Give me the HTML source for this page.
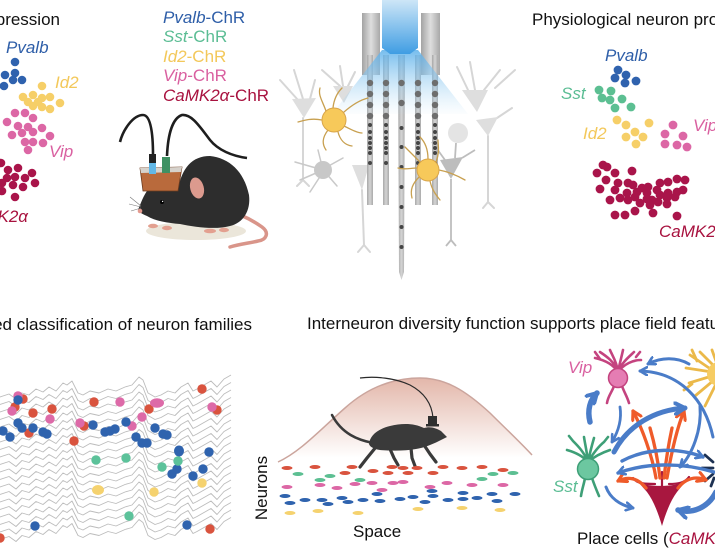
<!DOCTYPE html>
<html><head><meta charset="utf-8">
<style>
html,body{margin:0;padding:0;background:#fff;}
svg{display:block;}
text{font-family:"Liberation Sans","DejaVu Sans",sans-serif;font-size:17px;}
.it{font-style:italic;}
</style></head><body>
<svg width="715" height="550" viewBox="0 0 715 550" xmlns="http://www.w3.org/2000/svg">
<defs>
<linearGradient id="col" x1="0" y1="0" x2="0" y2="1"><stop offset="0" stop-color="#cde6f7"/><stop offset="1" stop-color="#3f9de3"/></linearGradient>
<linearGradient id="cone" x1="0" y1="0" x2="0" y2="1"><stop offset="0" stop-color="#5eb1ea" stop-opacity="0.85"/><stop offset="1" stop-color="#b5dcf5" stop-opacity="0.05"/></linearGradient>
<linearGradient id="bar" x1="0" y1="0" x2="1" y2="0"><stop offset="0" stop-color="#a3a3a3"/><stop offset="0.5" stop-color="#dedede"/><stop offset="1" stop-color="#a8a8a8"/></linearGradient>
<linearGradient id="shk" x1="0" y1="0" x2="1" y2="0"><stop offset="0" stop-color="#a9a9a9"/><stop offset="0.5" stop-color="#d4d4d4"/><stop offset="1" stop-color="#aaaaaa"/></linearGradient>
<linearGradient id="mtn" gradientUnits="userSpaceOnUse" x1="0" y1="378" x2="0" y2="458"><stop offset="0" stop-color="#e3b7aa"/><stop offset="1" stop-color="#ffffff"/></linearGradient>
<polyline id="tr" points="-5,2 0,0 9,-3 16,2 22,-4 29,-2 36,-8 43,-5 49,-10 56,-6 63,-14 67,-12 72,-16 78,-4 83,-2 90,-6 99,-4 108,-8 116,-6 125,-10 132,-12 139,-20 143,-17 148,-4 155,0 161,-2 168,-6 175,-4 181,-10 188,-14 193,-6 197,-8 204,-12 211,-16 217,-10 224,-18 231,-22" fill="none" stroke="#bcbcbc" stroke-width="0.9" stroke-linejoin="round"/>
<marker id="ab" viewBox="0 0 10 10" refX="8" refY="5" markerWidth="10" markerHeight="10" markerUnits="userSpaceOnUse" orient="auto"><path d="M1,1 L8,5 L1,9" fill="none" stroke="#4a7cc8" stroke-width="2.6" stroke-linecap="round" stroke-linejoin="round"/></marker>
<marker id="abB" viewBox="0 0 10 10" refX="8" refY="5" markerWidth="14" markerHeight="14" markerUnits="userSpaceOnUse" orient="auto"><path d="M1,1 L8,5 L1,9" fill="none" stroke="#4a7cc8" stroke-width="2.8" stroke-linecap="round" stroke-linejoin="round"/></marker>
<marker id="ao" viewBox="0 0 10 10" refX="8" refY="5" markerWidth="12" markerHeight="12" markerUnits="userSpaceOnUse" orient="auto"><path d="M1,1 L8,5 L1,9" fill="none" stroke="#ef5b2a" stroke-width="2.6" stroke-linecap="round" stroke-linejoin="round"/></marker>
</defs>
<rect width="715" height="550" fill="#fff"/>

<!-- ============ TOP LEFT: gene expression ============ -->
<text x="60" y="25" text-anchor="end" fill="#111">Gene expression</text>
<text x="6" y="53" class="it" fill="#2e5ea8">Pvalb</text>
<text x="55" y="88" class="it" fill="#f3c85a">Id2</text>
<text x="49" y="157" class="it" fill="#d960a0">Vip</text>
<text x="28" y="222" class="it" text-anchor="end" fill="#a8123f">CaMK2α</text>
<g fill="#2f62ae">
<circle cx="15" cy="62" r="4.3"/><circle cx="5" cy="75" r="4.3"/><circle cx="15" cy="73" r="4.3"/><circle cx="13" cy="80" r="4.3"/><circle cx="22" cy="80" r="4.3"/><circle cx="4" cy="86" r="4.3"/>
</g>
<g fill="#f6cf68">
<circle cx="42" cy="86" r="4.3"/><circle cx="23" cy="97" r="4.3"/><circle cx="33" cy="95" r="4.3"/><circle cx="42" cy="98" r="4.3"/><circle cx="50" cy="97" r="4.3"/><circle cx="60" cy="103" r="4.3"/><circle cx="33" cy="106" r="4.3"/><circle cx="42" cy="107" r="4.3"/><circle cx="50" cy="109" r="4.3"/><circle cx="38" cy="102" r="4.3"/><circle cx="28" cy="102" r="4.3"/>
</g>
<g fill="#dc67a5">
<circle cx="15" cy="113" r="4.3"/><circle cx="25" cy="113" r="4.3"/><circle cx="33" cy="118" r="4.3"/><circle cx="7" cy="122" r="4.3"/><circle cx="18" cy="126" r="4.3"/><circle cx="28" cy="127" r="4.3"/><circle cx="42" cy="128" r="4.3"/><circle cx="12" cy="135" r="4.3"/><circle cx="22" cy="133" r="4.3"/><circle cx="33" cy="132" r="4.3"/><circle cx="50" cy="136" r="4.3"/><circle cx="25" cy="142" r="4.3"/><circle cx="33" cy="142" r="4.3"/><circle cx="43" cy="143" r="4.3"/><circle cx="28" cy="150" r="4.3"/>
</g>
<g fill="#a9144a">
<circle cx="1" cy="163" r="4.3"/><circle cx="8" cy="170" r="4.3"/><circle cx="18" cy="168" r="4.3"/><circle cx="32" cy="173" r="4.3"/><circle cx="7" cy="178" r="4.3"/><circle cx="15" cy="177" r="4.3"/><circle cx="25" cy="178" r="4.3"/><circle cx="2" cy="183" r="4.3"/><circle cx="13" cy="185" r="4.3"/><circle cx="23" cy="187" r="4.3"/><circle cx="35" cy="183" r="4.3"/><circle cx="2" cy="191" r="4.3"/><circle cx="15" cy="197" r="4.3"/>
</g>

<!-- legend -->
<text x="163" y="23" class="it" fill="#2e5ea8">Pvalb<tspan font-style="normal">-ChR</tspan></text>
<text x="163" y="42" class="it" fill="#5bbd94">Sst<tspan font-style="normal">-ChR</tspan></text>
<text x="163" y="62" class="it" fill="#f3c85a">Id2<tspan font-style="normal">-ChR</tspan></text>
<text x="163" y="81" class="it" fill="#d960a0">Vip<tspan font-style="normal">-ChR</tspan></text>
<text x="163" y="101" class="it" fill="#a8123f">CaMK2α<tspan font-style="normal">-ChR</tspan></text>

<!-- mouse top -->
<ellipse cx="196" cy="231" rx="50" ry="9" fill="#ebe6da"/>
<path d="M230,212 C240,214 252,220 262,227 C270,233 266,240 258,241 C250,243 240,244 230,247" fill="none" stroke="#d9958a" stroke-width="3.5" stroke-linecap="round"/>
<path d="M120,142 C123,130 133,115 143,115 C150,115 153,130 153,155" fill="none" stroke="#1e1e1e" stroke-width="2.6"/>
<path d="M167,156 C168,133 173,118 182,115 C192,114 200,127 210,140 C218,150 232,156 247,158" fill="none" stroke="#1e1e1e" stroke-width="2.6"/>
<path d="M138,210 C141,203 143,196 149,188 L178,189 C182,168 192,156 210,156 C229,158 244,171 249,195 C251,211 243,223 230,226 C215,230 195,227 180,224 C168,223 155,221 147,216 C142,214 139,212 138,210 Z" fill="#2d2d2d"/>
<ellipse cx="197" cy="188" rx="7.5" ry="11.5" fill="#dc9a8e" stroke="#2d2d2d" stroke-width="1.5" transform="rotate(-15 197 188)"/>
<circle cx="162" cy="202" r="2" fill="#000"/><circle cx="162.6" cy="201.4" r="0.7" fill="#fff"/>
<circle cx="140" cy="211" r="2.3" fill="#e39a8f"/>
<g stroke="#777" stroke-width="0.6"><line x1="141" y1="206" x2="130" y2="197"/><line x1="141" y1="207" x2="129" y2="204"/><line x1="141" y1="208" x2="131" y2="211"/></g>
<g fill="#e3a090"><ellipse cx="153" cy="226" rx="5" ry="2.2"/><ellipse cx="167" cy="228" rx="5" ry="2.2"/><ellipse cx="210" cy="231" rx="6" ry="2.3"/><ellipse cx="224" cy="230" rx="5" ry="2.2"/></g>
<path d="M140,168 L182,167 L178,191 L143,191 Z" fill="#b96a3c" stroke="#6b3a1e" stroke-width="0.8"/>
<path d="M140,168 L182,167 L181,172 L141,173 Z" fill="#d6d2cc"/>
<rect x="149" y="162" width="7" height="12" fill="#63b8e6"/>
<rect x="149" y="154" width="7" height="9" fill="#222"/>
<rect x="162" y="157" width="8" height="16" fill="#3f9163"/>

<!-- ============ TOP MIDDLE: probe ============ -->
<g fill="#dedede" stroke="#d6d6d6" stroke-width="2" stroke-linecap="round">
<path d="M280,80 L298,100 M294,70 L303,99 M315,80 L310,99 M303,118 L303,180 M303,180 L297,186 M303,180 L309,186" fill="none"/>
<polygon points="292,99 316,98 304,118" stroke="none"/>
<path d="M322,70 L340,86 M340,66 L343,86 M355,72 L348,86" fill="none"/>
<polygon points="333,86 353,86 344,103" stroke="none"/>
<polygon points="352,165 369,165 362,190" stroke="none"/>
<path d="M362,190 L364,245 M364,245 L358,252 M364,245 L370,252" fill="none"/>
<path d="M457,67 L468,90 M470,62 L475,90 M500,70 L484,90 M515,70 L495,88 M512,108 L497,118" fill="none"/>
<polygon points="462,90 488,90 477,112" stroke="none"/>
<circle cx="458" cy="133" r="10" stroke="none" fill="#e4e4e4"/>
<polygon points="476,120 498,117 488,136" stroke="none"/>
<path d="M488,136 L488,202 M488,202 L483,208 M488,202 L494,208" fill="none"/>
</g>
<g stroke="#c9c9c9" stroke-width="1.5" fill="none" stroke-linecap="round">
<path d="M323,170 L295,162 M323,170 L300,180 M323,172 L310,192 M325,172 L337,186 M325,168 L343,158 M322,166 L318,150"/>
</g>
<circle cx="323" cy="170" r="9" fill="#c8c8c8"/>
<polygon points="440,160 463,157 451,179" fill="#bdbdbd"/>
<path d="M451,179 L451,240 M451,240 L446,246 M451,240 L456,246 M445,160 L432,142 M455,158 L456,143 M462,158 L475,150" stroke="#bdbdbd" stroke-width="1.8" fill="none"/>

<rect x="362" y="13" width="18" height="62" fill="url(#bar)"/>
<rect x="421" y="13" width="19" height="62" fill="url(#bar)"/>
<g fill="url(#shk)">
<rect x="367" y="55" width="6" height="150"/>
<rect x="383" y="55" width="6" height="150"/>
<polygon points="398,55 405,55 404,272 401.5,280 399,272"/>
<rect x="415" y="55" width="6" height="150"/>
<rect x="432" y="55" width="6" height="150"/>
</g>
<polygon points="382,50 418,50 468,114 332,114" fill="url(#cone)"/>
<path d="M382,0 L418,0 L418,48 L410,54 L390,54 L382,48 Z" fill="url(#col)"/>
<g fill="#6d6d6d">
<circle cx="370" cy="83" r="3.2"/><circle cx="370" cy="94" r="3.2"/><circle cx="370" cy="105" r="3.2"/><circle cx="370" cy="116" r="3.2"/>
<circle cx="386" cy="83" r="3.2"/><circle cx="386" cy="94" r="3.2"/><circle cx="386" cy="105" r="3.2"/><circle cx="386" cy="116" r="3.2"/>
<circle cx="418" cy="83" r="3.2"/><circle cx="418" cy="94" r="3.2"/><circle cx="418" cy="105" r="3.2"/><circle cx="418" cy="116" r="3.2"/>
<circle cx="435" cy="83" r="3.2"/><circle cx="435" cy="94" r="3.2"/><circle cx="435" cy="105" r="3.2"/><circle cx="435" cy="116" r="3.2"/>
<circle cx="401.5" cy="83" r="3.2"/><circle cx="401.5" cy="103" r="3.2"/>
</g>
<g fill="#454545">
<circle cx="370" cy="125" r="2"/><circle cx="370" cy="132" r="2"/><circle cx="370" cy="138" r="2"/><circle cx="370" cy="143" r="2"/><circle cx="370" cy="148" r="2"/><circle cx="370" cy="153" r="2"/><circle cx="370" cy="163" r="2"/>
<circle cx="386" cy="125" r="2"/><circle cx="386" cy="132" r="2"/><circle cx="386" cy="138" r="2"/><circle cx="386" cy="143" r="2"/><circle cx="386" cy="148" r="2"/><circle cx="386" cy="153" r="2"/><circle cx="386" cy="163" r="2"/>
<circle cx="418" cy="125" r="2"/><circle cx="418" cy="132" r="2"/><circle cx="418" cy="138" r="2"/><circle cx="418" cy="143" r="2"/><circle cx="418" cy="148" r="2"/><circle cx="418" cy="153" r="2"/><circle cx="418" cy="163" r="2"/>
<circle cx="435" cy="125" r="2"/><circle cx="435" cy="132" r="2"/><circle cx="435" cy="138" r="2"/><circle cx="435" cy="143" r="2"/><circle cx="435" cy="148" r="2"/><circle cx="435" cy="153" r="2"/><circle cx="435" cy="163" r="2"/>
<circle cx="401.5" cy="128" r="2"/><circle cx="401.5" cy="147" r="2"/><circle cx="401.5" cy="167" r="2"/><circle cx="401.5" cy="187" r="2"/><circle cx="401.5" cy="207" r="2"/><circle cx="401.5" cy="227" r="2"/><circle cx="401.5" cy="247" r="2"/>
</g>
<g stroke="#c8a050" stroke-width="1.3" fill="none" stroke-linecap="round">
<path d="M326,111 C322,100 318,95 320,88 M333,108 C334,98 338,92 342,88 M344,112 C352,105 360,100 368,98 M322,120 C312,118 305,120 298,122 M328,130 C322,138 322,144 326,150 M338,132 C340,140 345,145 352,146 M344,126 C352,130 358,133 362,133"/>
<path d="M420,162 C413,155 408,150 405,147 M428,159 C428,150 425,142 420,137 M436,162 C440,152 438,145 438,140 M439,170 C450,172 458,176 465,180 M420,176 C412,184 410,190 412,198 M430,181 C432,190 436,195 440,200 M418,168 C410,168 405,170 398,168"/>
</g>
<circle cx="334" cy="120" r="12" fill="#f7c95a" stroke="#d9a54a" stroke-width="1"/>
<circle cx="428" cy="170" r="11" fill="#f7c95a" stroke="#d9a54a" stroke-width="1"/>

<!-- ============ TOP RIGHT ============ -->
<text x="532" y="25" fill="#111">Physiological neuron properties</text>
<text x="605" y="61" class="it" fill="#2e5ea8">Pvalb</text>
<text x="561" y="99" class="it" fill="#5bbd94">Sst</text>
<text x="583" y="139" class="it" fill="#f3c85a">Id2</text>
<text x="693" y="131" class="it" fill="#d960a0">Vip</text>
<text x="659" y="237" class="it" fill="#a8123f">CaMK2α</text>
<g fill="#2f62ae"><circle cx="618" cy="70" r="4.4"/><circle cx="615" cy="78" r="4.4"/><circle cx="626" cy="75" r="4.4"/><circle cx="625" cy="83" r="4.4"/><circle cx="636" cy="81" r="4.4"/></g>
<g fill="#5cbf92"><circle cx="599" cy="90" r="4.4"/><circle cx="611" cy="91" r="4.4"/><circle cx="602" cy="98" r="4.4"/><circle cx="610" cy="100" r="4.4"/><circle cx="622" cy="99" r="4.4"/><circle cx="615" cy="108" r="4.4"/><circle cx="631" cy="107" r="4.4"/></g>
<g fill="#f6cf68"><circle cx="617" cy="120" r="4.4"/><circle cx="626" cy="125" r="4.4"/><circle cx="649" cy="123" r="4.4"/><circle cx="635" cy="132" r="4.4"/><circle cx="626" cy="137" r="4.4"/><circle cx="643" cy="137" r="4.4"/><circle cx="636" cy="144" r="4.4"/></g>
<g fill="#dc67a5"><circle cx="673" cy="125" r="4.4"/><circle cx="665" cy="134" r="4.4"/><circle cx="683" cy="136" r="4.4"/><circle cx="665" cy="144" r="4.4"/><circle cx="677" cy="145" r="4.4"/><circle cx="687" cy="147" r="4.4"/></g>
<g fill="#a9144a">
<circle cx="603" cy="165" r="4.4"/><circle cx="607" cy="167" r="4.4"/><circle cx="597" cy="173" r="4.4"/><circle cx="615" cy="173" r="4.4"/><circle cx="632" cy="171" r="4.4"/><circle cx="606" cy="180" r="4.4"/><circle cx="618" cy="183" r="4.4"/><circle cx="628" cy="183" r="4.4"/><circle cx="600" cy="189" r="4.4"/><circle cx="615" cy="190" r="4.4"/><circle cx="627" cy="193" r="4.4"/><circle cx="637" cy="192" r="4.4"/><circle cx="642" cy="188" r="4.4"/><circle cx="648" cy="187" r="4.4"/><circle cx="660" cy="183" r="4.4"/><circle cx="668" cy="182" r="4.4"/><circle cx="677" cy="179" r="4.4"/><circle cx="685" cy="180" r="4.4"/><circle cx="610" cy="200" r="4.4"/><circle cx="620" cy="198" r="4.4"/><circle cx="628" cy="200" r="4.4"/><circle cx="635" cy="197" r="4.4"/><circle cx="647" cy="193" r="4.4"/><circle cx="652" cy="200" r="4.4"/><circle cx="660" cy="195" r="4.4"/><circle cx="668" cy="193" r="4.4"/><circle cx="677" cy="192" r="4.4"/><circle cx="683" cy="190" r="4.4"/><circle cx="640" cy="203" r="4.4"/><circle cx="650" cy="205" r="4.4"/><circle cx="658" cy="202" r="4.4"/><circle cx="667" cy="204" r="4.4"/><circle cx="615" cy="215" r="4.4"/><circle cx="625" cy="215" r="4.4"/><circle cx="635" cy="211" r="4.4"/><circle cx="653" cy="213" r="4.4"/><circle cx="677" cy="216" r="4.4"/><circle cx="647" cy="199" r="4.4"/><circle cx="633" cy="185" r="4.4"/><circle cx="667" cy="198" r="4.4"/><circle cx="657" cy="190" r="4.4"/><circle cx="675" cy="197" r="4.4"/>
</g>

<!-- ============ BOTTOM LEFT ============ -->
<text x="252" y="330" text-anchor="end" fill="#111">Automated classification of neuron families</text>
<g>
<use href="#tr" y="397"/><use href="#tr" y="404.5"/><use href="#tr" y="412"/><use href="#tr" y="419.5"/><use href="#tr" y="427"/><use href="#tr" y="434.5"/><use href="#tr" y="442"/><use href="#tr" y="449.5"/><use href="#tr" y="457"/><use href="#tr" y="464.5"/><use href="#tr" y="472"/><use href="#tr" y="479.5"/><use href="#tr" y="487"/><use href="#tr" y="494.5"/><use href="#tr" y="502"/><use href="#tr" y="509.5"/><use href="#tr" y="517"/><use href="#tr" y="524.5"/><use href="#tr" y="532"/><use href="#tr" y="539.5"/>
</g>
<g fill="#d9533e">
<circle cx="202" cy="389" r="4.7"/><circle cx="94" cy="402" r="4.7"/><circle cx="23" cy="399" r="4.7"/><circle cx="15" cy="407" r="4.7"/><circle cx="33" cy="413" r="4.7"/><circle cx="52" cy="409" r="4.7"/><circle cx="149" cy="409" r="4.7"/><circle cx="217" cy="410" r="4.7"/><circle cx="84" cy="426" r="4.7"/><circle cx="29" cy="433" r="4.7"/><circle cx="74" cy="441" r="4.7"/><circle cx="210" cy="529" r="4.7"/><circle cx="0" cy="538" r="4.7"/>
</g>
<g fill="#dd6aa8">
<circle cx="18" cy="396" r="4.7"/><circle cx="120" cy="402" r="4.7"/><circle cx="12" cy="411" r="4.7"/><circle cx="50" cy="419" r="4.7"/><ellipse cx="157" cy="403" rx="7" ry="4.7"/><circle cx="212" cy="407" r="4.7"/><circle cx="80" cy="423" r="4.7"/><circle cx="142" cy="417" r="4.7"/><circle cx="132" cy="426" r="4.7"/>
</g>
<g fill="#2f63ae">
<circle cx="18" cy="400" r="4.7"/><circle cx="3" cy="431" r="4.7"/><circle cx="10" cy="437" r="4.7"/><circle cx="18" cy="423" r="4.7"/><circle cx="22" cy="428" r="4.7"/><circle cx="33" cy="428" r="4.7"/><circle cx="43" cy="432" r="4.7"/><circle cx="47" cy="434" r="4.7"/><circle cx="93" cy="425" r="4.7"/><circle cx="105" cy="432" r="4.7"/><circle cx="115" cy="429" r="4.7"/><circle cx="110" cy="431" r="4.7"/><circle cx="126" cy="422" r="4.7"/><circle cx="136" cy="437" r="4.7"/><circle cx="142" cy="443" r="4.7"/><circle cx="147" cy="443" r="4.7"/><circle cx="155" cy="428" r="4.7"/><circle cx="163" cy="434" r="4.7"/><circle cx="167" cy="435" r="4.7"/><ellipse cx="179" cy="451" rx="5" ry="5.5"/><circle cx="209" cy="452" r="4.7"/><circle cx="172" cy="474" r="4.7"/><circle cx="177" cy="469" r="4.7"/><circle cx="193" cy="476" r="4.7"/><circle cx="203" cy="469" r="4.7"/><circle cx="35" cy="526" r="4.7"/><circle cx="187" cy="525" r="4.7"/>
</g>
<g fill="#5cc29a"><circle cx="96" cy="460" r="4.7"/><circle cx="126" cy="458" r="4.7"/><circle cx="162" cy="467" r="4.7"/><circle cx="178" cy="461" r="4.7"/><circle cx="129" cy="516" r="4.7"/></g>
<g fill="#f5d26f"><ellipse cx="98" cy="490" rx="6" ry="5"/><circle cx="154" cy="492" r="4.7"/><circle cx="202" cy="483" r="4.7"/></g>

<!-- ============ BOTTOM MIDDLE ============ -->
<text x="307" y="329" fill="#111">Interneuron diversity function supports place field features</text>
<path d="M278,462 C300,452 320,430 345,408 C365,390 390,378 420,378 C445,378 465,390 490,413 C505,428 520,442 532,455 L532,466 L278,466 Z" fill="url(#mtn)"/>
<path d="M278,462 C300,452 320,430 345,408 C365,390 390,378 420,378 C445,378 465,390 490,413 C505,428 520,442 532,455" fill="none" stroke="#cba59d" stroke-width="1.5"/>
<path d="M373,443 C358,440 342,434 332,415" fill="none" stroke="#3a3a3a" stroke-width="2.5" stroke-linecap="round"/>
<path d="M433,418 C432,405 425,393 410,385 C395,378 375,376 360,378" fill="none" stroke="#2a2a2a" stroke-width="1.2"/>
<path d="M369,444 C370,435 378,429 390,426 C402,423 414,423 424,428 C430,426 436,428 441,431 L447,437 L439,441 C431,445 423,448 416,449 C405,451 392,451 380,450 C374,449 370,447 369,444 Z" fill="#3a3a3a"/>
<g stroke="#3a3a3a" stroke-width="3.2" fill="none" stroke-linecap="round" stroke-linejoin="round">
<path d="M376,447 L367,458 L360,467"/><path d="M390,449 L394,458 L398,465"/><path d="M411,448 L412,458 L415,466"/><path d="M424,445 L430,454 L436,462"/>
</g>
<rect x="428" y="416" width="9" height="10" fill="#2f2f2f"/>
<rect x="426" y="424" width="13" height="2.5" fill="#2f2f2f"/>
<g>
<g fill="#d9533e">
<ellipse cx="287" cy="468" rx="5.5" ry="2"/><ellipse cx="315" cy="467" rx="5.5" ry="2"/><ellipse cx="352" cy="467" rx="5.5" ry="2"/><ellipse cx="392" cy="467" rx="5.5" ry="2"/><ellipse cx="403" cy="468" rx="5.5" ry="2"/><ellipse cx="417" cy="468" rx="5.5" ry="2"/><ellipse cx="443" cy="467" rx="5.5" ry="2"/><ellipse cx="462" cy="468" rx="5.5" ry="2"/><ellipse cx="482" cy="467" rx="5.5" ry="2"/><ellipse cx="503" cy="470" rx="5.5" ry="2"/><ellipse cx="345" cy="473" rx="5.5" ry="2"/><ellipse cx="373" cy="471" rx="5.5" ry="2"/><ellipse cx="388" cy="473" rx="5.5" ry="2"/><ellipse cx="408" cy="473" rx="5.5" ry="2"/><ellipse cx="433" cy="473" rx="5.5" ry="2"/>
</g>
<g fill="#5cbf92">
<ellipse cx="298" cy="474" rx="5.5" ry="2"/><ellipse cx="330" cy="476" rx="5.5" ry="2"/><ellipse cx="320" cy="480" rx="5.5" ry="2"/><ellipse cx="360" cy="480" rx="5.5" ry="2"/><ellipse cx="482" cy="479" rx="5.5" ry="2"/><ellipse cx="493" cy="474" rx="5.5" ry="2"/><ellipse cx="513" cy="473" rx="5.5" ry="2"/>
</g>
<g fill="#dc67a5">
<ellipse cx="287" cy="487" rx="5.5" ry="2"/><ellipse cx="320" cy="485" rx="5.5" ry="2"/><ellipse cx="337" cy="488" rx="5.5" ry="2"/><ellipse cx="355" cy="484" rx="5.5" ry="2"/><ellipse cx="372" cy="483" rx="5.5" ry="2"/><ellipse cx="393" cy="483" rx="5.5" ry="2"/><ellipse cx="403" cy="482" rx="5.5" ry="2"/><ellipse cx="430" cy="487" rx="5.5" ry="2"/><ellipse cx="447" cy="483" rx="5.5" ry="2"/><ellipse cx="472" cy="485" rx="5.5" ry="2"/><ellipse cx="503" cy="485" rx="5.5" ry="2"/><ellipse cx="382" cy="490" rx="5.5" ry="2"/>
</g>
<g fill="#2f63ae">
<ellipse cx="285" cy="496" rx="5.5" ry="2"/><ellipse cx="305" cy="500" rx="5.5" ry="2"/><ellipse cx="322" cy="500" rx="5.5" ry="2"/><ellipse cx="342" cy="498" rx="5.5" ry="2"/><ellipse cx="348" cy="502" rx="5.5" ry="2"/><ellipse cx="363" cy="500" rx="5.5" ry="2"/><ellipse cx="380" cy="501" rx="5.5" ry="2"/><ellipse cx="377" cy="494" rx="5.5" ry="2"/><ellipse cx="400" cy="499" rx="5.5" ry="2"/><ellipse cx="413" cy="497" rx="5.5" ry="2"/><ellipse cx="425" cy="502" rx="5.5" ry="2"/><ellipse cx="432" cy="491" rx="5.5" ry="2"/><ellipse cx="433" cy="496" rx="5.5" ry="2"/><ellipse cx="448" cy="500" rx="5.5" ry="2"/><ellipse cx="463" cy="493" rx="5.5" ry="2"/><ellipse cx="463" cy="499" rx="5.5" ry="2"/><ellipse cx="477" cy="498" rx="5.5" ry="2"/><ellipse cx="492" cy="494" rx="5.5" ry="2"/><ellipse cx="497" cy="501" rx="5.5" ry="2"/><ellipse cx="515" cy="494" rx="5.5" ry="2"/><ellipse cx="290" cy="503" rx="5.5" ry="2"/><ellipse cx="328" cy="504" rx="5.5" ry="2"/>
</g>
<g fill="#f5d26f">
<ellipse cx="290" cy="513" rx="5.5" ry="2"/><ellipse cx="318" cy="511" rx="5.5" ry="2"/><ellipse cx="358" cy="513" rx="5.5" ry="2"/><ellipse cx="418" cy="509" rx="5.5" ry="2"/><ellipse cx="462" cy="508" rx="5.5" ry="2"/><ellipse cx="500" cy="510" rx="5.5" ry="2"/>
</g>
</g>
<text x="353" y="537" fill="#111">Space</text>
<text x="267" y="488" text-anchor="middle" fill="#111" transform="rotate(-90 267 488)">Neurons</text>

<!-- ============ BOTTOM RIGHT: network ============ -->
<text x="568" y="373" class="it" fill="#d960a0">Vip</text>
<text x="553" y="492" class="it" fill="#5bbd94">Sst</text>
<!-- yellow neuron -->
<g stroke="#ebb94a" stroke-width="2.8" fill="none" stroke-linecap="round">
<path d="M712,370 L690,355 M712,372 L686,368 M712,376 L689,383 M714,380 L695,396 M716,384 L705,406 M714,366 L700,352 M717,364 L712,350 M697,361 L692,350 M692,384 L684,390"/>
</g>
<circle cx="719" cy="374" r="12" fill="#f6cc63"/>
<!-- Vip neuron -->
<g stroke="#c4437f" stroke-width="2.6" fill="none" stroke-linecap="round">
<path d="M618,372 C613,364 604,360 595,358 M618,372 C615,362 606,356 600,352 M618,372 C617,362 612,355 610,350 M618,372 C620,362 622,355 623,350 M618,372 C622,362 630,356 634,352 M618,372 C624,364 633,360 641,360 M600,359 L595,352 M636,357 L640,352"/>
<path d="M614,386 C612,392 608,396 607,403 M622,386 C624,392 627,396 629,403"/>
</g>
<circle cx="618" cy="378" r="9.5" fill="#e57db3" stroke="#c4437f" stroke-width="1.5"/>
<!-- Sst neuron -->
<g stroke="#3e9f77" stroke-width="2.6" fill="none" stroke-linecap="round">
<path d="M588,462 C582,455 574,452 567,450 M588,462 C584,452 578,446 573,441 M588,462 C587,452 585,444 584,437 M588,462 C590,452 592,445 594,438 M588,462 C594,452 599,446 604,442 M588,462 C596,455 604,452 610,450 M573,441 L569,436 M604,442 L608,437"/>
<path d="M585,478 C584,484 582,489 581,496 M592,478 C594,484 596,489 599,496"/>
</g>
<circle cx="588" cy="469" r="10.5" fill="#6cc7a0" stroke="#3e9f77" stroke-width="1.5"/>
<!-- navy neuron -->
<g stroke="#1d3152" stroke-width="2.8" stroke-linecap="round"><path d="M705,455 L713,462 M702,468 L713,468 M705,481 L713,474 M711,486 L714,478"/></g>
<!-- CaMK2 cell -->
<path d="M639,483 C650,487 674,487 685,482 L677,492 C671,500 666,512 662,526 C658,512 653,500 647,492 Z" fill="#a8173f"/>
<path d="M633,478 C637,484 646,484 655,484 M689,477 C685,483 677,484 669,484 M662,486 L662,472" stroke="#a8173f" stroke-width="2.2" fill="none" stroke-linecap="round"/>
<!-- orange arrows -->
<g stroke="#ef5b2a" stroke-width="3.3" fill="none" stroke-linecap="round">
<path d="M656,478 C652,455 642,428 633,411" marker-end="url(#ao)"/>
<path d="M667,478 C671,455 677,428 684,411" marker-end="url(#ao)"/>
<path d="M660,478 C658,460 654,442 650,428"/>
<path d="M664,478 C666,460 669,442 672,428"/>
<path d="M646,488 C638,478 628,476 618,481" marker-end="url(#ao)"/>
<path d="M678,488 C686,478 696,476 706,480" marker-end="url(#ao)"/>
</g>
<!-- blue arrows -->
<g stroke="#4a7cc8" fill="none" stroke-linecap="round">
<path d="M689,364 C677,357 661,357 648,364" stroke-width="3" marker-end="url(#ab)"/>
<path d="M713,437 C705,400 680,372 640,371" stroke-width="3" marker-end="url(#ab)"/>
<path d="M590,422 C587,410 590,400 597,393" stroke-width="5.5" marker-end="url(#abB)"/>
<path d="M620,407 C622,420 618,432 612,442" stroke-width="2.8" marker-end="url(#ab)"/>
<path d="M614,452 C628,425 655,410 685,408" stroke-width="5" marker-end="url(#abB)"/>
<path d="M622,461 C648,447 680,448 703,457" stroke-width="3.4" marker-end="url(#ab)"/>
<path d="M714,472 C680,462 645,463 618,473" stroke-width="3.4" marker-end="url(#ab)"/>
<path d="M700,406 C702,430 692,455 680,467" stroke-width="3" marker-end="url(#ab)"/>
<path d="M606,487 C610,498 620,505 633,508" stroke-width="3" marker-end="url(#ab)"/>
<path d="M716,492 C708,508 692,514 678,510" stroke-width="5.5" marker-end="url(#abB)"/>
</g>
<text x="577" y="544" fill="#111">Place cells (<tspan class="it" fill="#a8123f">CaMK2α</tspan>)</text>
</svg>
</body></html>
